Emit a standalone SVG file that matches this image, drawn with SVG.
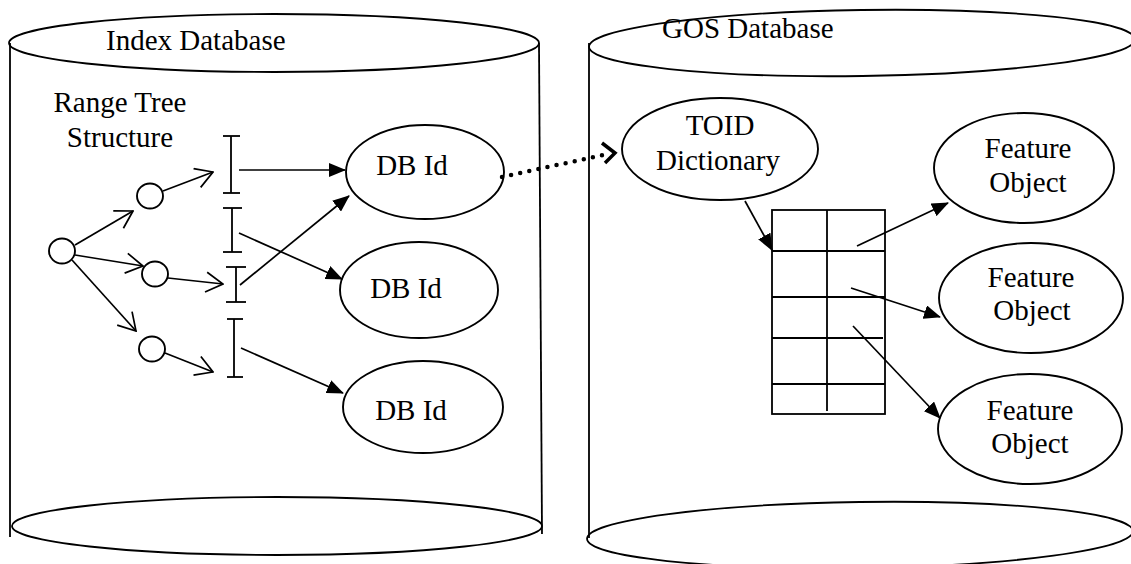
<svg xmlns="http://www.w3.org/2000/svg" width="1131" height="564" viewBox="0 0 1131 564">
  <style>
    .shape { fill: none; stroke: #000; stroke-width: 1.8; }
    .node { fill: #fff; stroke: #000; stroke-width: 1.9; }
    .edge { fill: none; stroke: #000; stroke-width: 1.7; }
    .lbl { font-family: "Liberation Serif", "Times New Roman", serif; font-size: 29px; fill: #000; }
    .mid { text-anchor: middle; }
  </style>
  <defs>
    <marker id="solid" viewBox="0 0 17 14" refX="16" refY="7" markerWidth="17" markerHeight="14" markerUnits="userSpaceOnUse" orient="auto">
      <path d="M0,0 L17,7 L0,14 z" fill="#000"/>
    </marker>
    <marker id="open" viewBox="0 0 20 22" refX="19" refY="11" markerWidth="20" markerHeight="22" markerUnits="userSpaceOnUse" orient="auto">
      <path d="M2,1 L19,11 L2,21" fill="none" stroke="#000" stroke-width="1.7"/>
    </marker>
  </defs>

  <!-- Index Database cylinder -->
  <g id="index-db">
    <line class="shape" x1="10" y1="43" x2="10" y2="537"/>
    <line class="shape" x1="539" y1="43" x2="542" y2="534"/>
    <ellipse class="shape" cx="274" cy="43" rx="265" ry="29"/>
    <ellipse class="shape" cx="277" cy="526" rx="265" ry="29"/>
    <text class="lbl" x="106" y="50">Index Database</text>
  </g>

  <!-- GOS Database cylinder -->
  <g id="gos-db">
    <line class="shape" x1="589" y1="43" x2="589" y2="538"/>
    <ellipse class="shape" cx="862" cy="43" rx="273" ry="33" transform="rotate(-0.8 862 43)"/>
    <ellipse class="shape" cx="860" cy="535" rx="273" ry="33" transform="rotate(-0.8 860 535)"/>
    <text class="lbl" x="662" y="38">GOS Database</text>
  </g>

  <g id="range-tree-label">
    <text class="lbl mid" x="120" y="112">Range Tree</text>
    <text class="lbl mid" x="120" y="147">Structure</text>
  </g>

  <!-- range tree nodes -->
  <g id="tree-root"><ellipse class="node" cx="62" cy="251" rx="13" ry="12.5"/></g>
  <g id="tree-node-1"><ellipse class="node" cx="150" cy="196" rx="13" ry="12.5"/></g>
  <g id="tree-node-2"><ellipse class="node" cx="155" cy="274" rx="13" ry="12.5"/></g>
  <g id="tree-node-3"><ellipse class="node" cx="152" cy="349" rx="13" ry="12.5"/></g>

  <!-- ranges -->
  <g id="range-1" class="shape">
    <line x1="231" y1="136" x2="231" y2="193"/>
    <line x1="223" y1="136" x2="240" y2="136"/>
    <line x1="223" y1="193" x2="240" y2="193"/>
  </g>
  <g id="range-2" class="shape">
    <line x1="232" y1="208" x2="232" y2="252"/>
    <line x1="223" y1="208" x2="242" y2="208"/>
    <line x1="223" y1="252" x2="242" y2="252"/>
  </g>
  <g id="range-3" class="shape">
    <line x1="236" y1="267" x2="236" y2="302"/>
    <line x1="226" y1="267" x2="246" y2="267"/>
    <line x1="226" y1="302" x2="246" y2="302"/>
  </g>
  <g id="range-4" class="shape">
    <line x1="234" y1="319" x2="234" y2="377"/>
    <line x1="227" y1="319" x2="243" y2="319"/>
    <line x1="227" y1="377" x2="243" y2="377"/>
  </g>

  <!-- DB Id nodes -->
  <g id="dbid-1">
    <ellipse class="node" cx="425" cy="172" rx="79" ry="47"/>
    <text class="lbl mid" x="412" y="175">DB Id</text>
  </g>
  <g id="dbid-2">
    <ellipse class="node" cx="419" cy="290" rx="79" ry="48"/>
    <text class="lbl mid" x="406" y="298">DB Id</text>
  </g>
  <g id="dbid-3">
    <ellipse class="node" cx="423" cy="407" rx="80" ry="46"/>
    <text class="lbl mid" x="411" y="420">DB Id</text>
  </g>

  <!-- TOID dictionary -->
  <g id="toid-dictionary">
    <ellipse class="node" cx="720" cy="149" rx="98" ry="51"/>
    <text class="lbl mid" x="720" y="135">TOID</text>
    <text class="lbl mid" x="718" y="170">Dictionary</text>
  </g>

  <!-- lookup table -->
  <g id="toid-table" class="shape">
    <rect x="772" y="210" width="113" height="204"/>
    <line x1="772" y1="251" x2="885" y2="251"/>
    <line x1="772" y1="297" x2="885" y2="297"/>
    <line x1="772" y1="338" x2="883" y2="338"/>
    <line x1="772" y1="384" x2="885" y2="384"/>
    <line x1="827" y1="210" x2="827" y2="411"/>
  </g>

  <!-- Feature objects -->
  <g id="feature-1">
    <ellipse class="node" cx="1024" cy="168" rx="90" ry="55"/>
    <text class="lbl mid" x="1028" y="158">Feature</text>
    <text class="lbl mid" x="1028" y="192">Object</text>
  </g>
  <g id="feature-2">
    <ellipse class="node" cx="1031" cy="298" rx="92" ry="55"/>
    <text class="lbl mid" x="1031" y="287">Feature</text>
    <text class="lbl mid" x="1032" y="320">Object</text>
  </g>
  <g id="feature-3">
    <ellipse class="node" cx="1030" cy="429" rx="92" ry="55"/>
    <text class="lbl mid" x="1030" y="420">Feature</text>
    <text class="lbl mid" x="1030" y="453">Object</text>
  </g>

  <!-- connectors -->
  <g id="connectors">
    <!-- tree edges -->
    <line class="edge" x1="75" y1="245" x2="133" y2="211" marker-end="url(#open)"/>
    <line class="edge" x1="75" y1="255" x2="143" y2="266" marker-end="url(#open)"/>
    <line class="edge" x1="72" y1="260" x2="136" y2="331" marker-end="url(#open)"/>
    <line class="edge" x1="163" y1="191" x2="213" y2="172" marker-end="url(#open)"/>
    <line class="edge" x1="168" y1="278" x2="223" y2="284" marker-end="url(#open)"/>
    <line class="edge" x1="165" y1="353" x2="213" y2="372" marker-end="url(#open)"/>
    <!-- ranges to DB Ids -->
    <line class="edge" x1="239" y1="170" x2="345" y2="170" marker-end="url(#solid)"/>
    <line class="edge" x1="239" y1="233" x2="342" y2="279" marker-end="url(#solid)"/>
    <line class="edge" x1="240" y1="285" x2="349" y2="196" marker-end="url(#solid)"/>
    <line class="edge" x1="241" y1="348" x2="343" y2="393" marker-end="url(#solid)"/>
    <!-- DB Id to TOID dictionary -->
    <line x1="502" y1="177" x2="603" y2="155" fill="none" stroke="#000" stroke-width="4.5" stroke-linecap="round" stroke-dasharray="0 9.3"/>
    <path d="M602,143 L615,153 L605,163" fill="none" stroke="#000" stroke-width="3.5" stroke-linejoin="miter"/>
    <!-- dictionary to table -->
    <line class="edge" x1="745" y1="201" x2="772" y2="250" marker-end="url(#solid)"/>
    <!-- table to feature objects -->
    <line class="edge" x1="857" y1="246" x2="948" y2="203" marker-end="url(#solid)"/>
    <line class="edge" x1="851" y1="288" x2="940" y2="317" marker-end="url(#solid)"/>
    <line class="edge" x1="853" y1="326" x2="940" y2="418" marker-end="url(#solid)"/>
  </g>
</svg>
